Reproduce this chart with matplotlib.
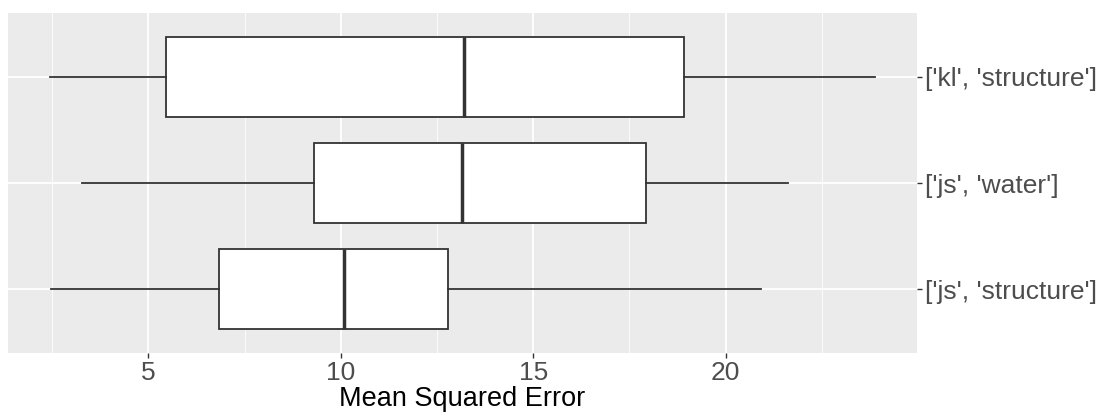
import matplotlib
matplotlib.use("Agg")
from matplotlib import pyplot as plt
from matplotlib.ticker import MultipleLocator

# boxplot summaries (bottom to top)
labels = ["['js', 'structure']", "['js', 'water']", "['kl', 'structure']"]
whislo = [2.47, 3.27, 2.45]
q1 = [6.85, 9.30, 5.45]
med = [10.08, 13.16, 13.21]
q3 = [12.79, 17.94, 18.92]
whishi = [20.91, 21.62, 23.89]

plt.rcParams["font.family"] = ["Liberation Sans", "DejaVu Sans"]

fig = plt.figure(figsize=(11.02, 4.12), dpi=100)
ax = fig.add_axes([8 / 1102, 59 / 412, 909 / 1102, 340 / 412])

stats = []
for i in range(len(labels)):
    stats.append({"whislo": whislo[i], "q1": q1[i], "med": med[i],
                  "q3": q3[i], "whishi": whishi[i], "fliers": []})

line = "#333333"
ax.bxp(stats, positions=[1, 2, 3], widths=0.75, vert=False,
       patch_artist=True, showcaps=False, showfliers=False,
       boxprops={"facecolor": "white", "edgecolor": line, "linewidth": 1.3},
       whiskerprops={"color": line, "linewidth": 1.3},
       medianprops={"color": line, "linewidth": 2.5},
       zorder=3)

ax.set_facecolor("#EBEBEB")
for s in ax.spines.values():
    s.set_visible(False)

ax.set_xlim(1.356, 24.97)
ax.set_ylim(0.4, 3.6)
ax.xaxis.set_major_locator(MultipleLocator(5))
ax.xaxis.set_minor_locator(MultipleLocator(2.5))
ax.set_yticks([1, 2, 3])
ax.set_yticklabels(labels)
ax.yaxis.tick_right()

ax.grid(which="major", color="white", linewidth=1.3, zorder=0)
ax.grid(which="minor", axis="x", color="white", linewidth=0.6, zorder=0)
ax.set_axisbelow(True)

ax.tick_params(which="major", length=3.5, width=1, color=line,
               labelsize=19, labelcolor="#4D4D4D", pad=2)
ax.tick_params(which="minor", length=0)

ax.set_xlabel("Mean Squared Error", fontsize=19.5, color="black", labelpad=1)

fig.savefig("out.png", dpi=100)
